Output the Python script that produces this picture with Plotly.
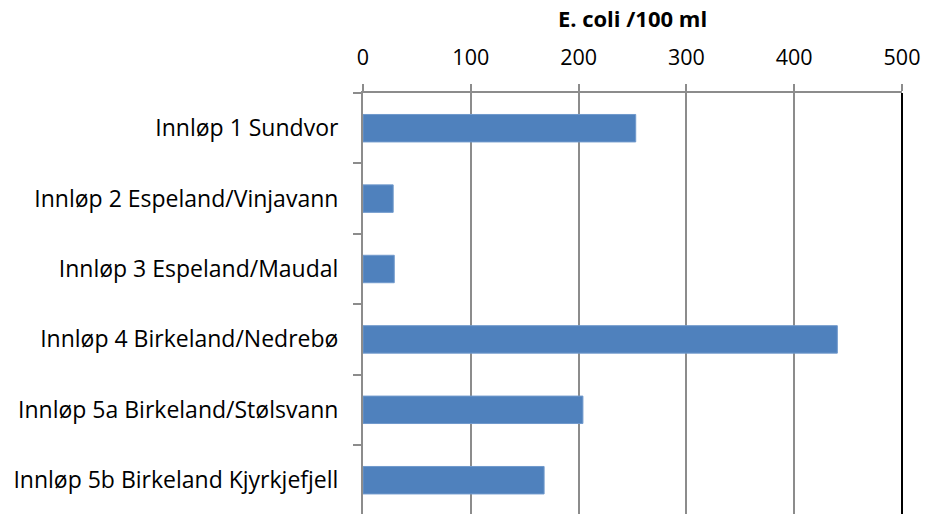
import plotly.graph_objects as go

categories = [
    "Innløp 1 Sundvor",
    "Innløp 2 Espeland/Vinjavann",
    "Innløp 3 Espeland/Maudal",
    "Innløp 4 Birkeland/Nedrebø",
    "Innløp 5a Birkeland/Stølsvann",
    "Innløp 5b Birkeland Kjyrkjefjell",
]
values = [253, 28, 29, 440, 204, 168]
x_ticks = [0, 100, 200, 300, 400, 500]
x_title = "E. coli /100 ml"

FONT = "Open Sans"

fig = go.Figure()
fig.add_trace(go.Bar(
    y=categories,
    x=values,
    orientation="h",
    width=0.39,
    marker=dict(color="#4F81BD", line=dict(color="#7099cc", width=1)),
))

fig.update_layout(
    width=925, height=514,
    margin=dict(l=363, r=23, t=93, b=0, pad=0),
    paper_bgcolor="white",
    plot_bgcolor="white",
    showlegend=False,
    font=dict(family=FONT, size=22, color="black"),
    xaxis=dict(
        side="top",
        range=[0, 500],
        tickvals=x_ticks,
        ticktext=[str(v) for v in x_ticks],
        showgrid=True,
        gridcolor="#8c8c8c",
        gridwidth=1.5,
        zeroline=False,
        showline=True,
        linecolor="#8c8c8c",
        linewidth=2,
        ticks="outside",
        ticklen=7,
        tickwidth=1.5,
        tickcolor="#8c8c8c",
        ticklabelstandoff=10,
        tickfont=dict(family=FONT, size=21.5, color="black"),
        title=dict(text="<b>" + x_title + "</b>", font=dict(family=FONT, size=22, color="black"), standoff=9),
    ),
    yaxis=dict(
        categoryorder="array",
        categoryarray=categories,
        range=[5.48, -0.5],
        showgrid=False,
        zeroline=False,
        showline=True,
        linecolor="#8c8c8c",
        linewidth=2,
        ticks="outside",
        tickson="boundaries",
        ticklen=8,
        tickwidth=1.5,
        tickcolor="#8c8c8c",
        ticklabelstandoff=18,
        tickfont=dict(family=FONT, size=23, color="black"),
    ),
    shapes=[dict(
        type="line", xref="x domain", yref="y domain",
        x0=1, x1=1, y0=0, y1=1,
        line=dict(color="black", width=2),
    )],
)

fig.write_html("out.html", config={"displayModeBar": False},
               post_script="document.body.style.margin='0';")
